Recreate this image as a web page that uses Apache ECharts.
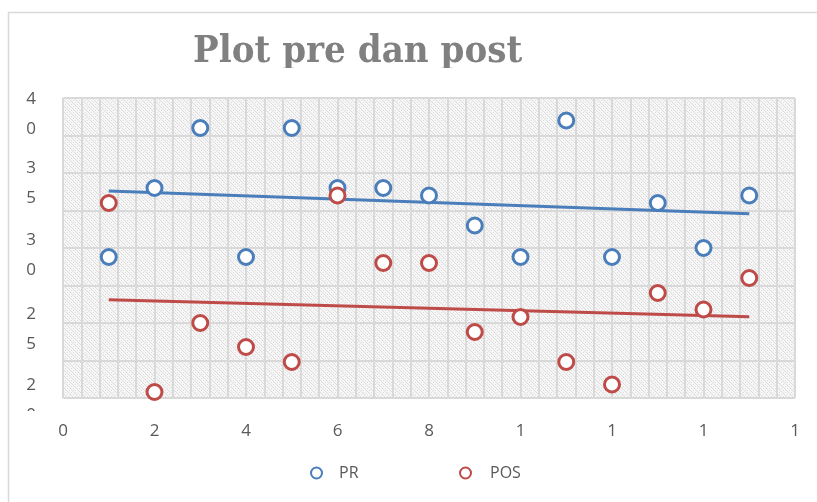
<!DOCTYPE html>
<html>
<head>
<meta charset="utf-8">
<script src="https://cdn.jsdelivr.net/npm/echarts@6/dist/echarts.min.js"></script>
<style>
html,body{margin:0;padding:0;background:#fff;}
#chart{width:817px;height:502px;}
</style>
</head>
<body>
<div id="chart"></div>
<script>
// ---- data ----
const chartTitle = 'Plot pre dan post';
const seriesNames = ['PR', 'POS'];
const trendNames = ['Linear (PR)', 'Linear (POS)'];
const subjects = [1, 2, 3, 4, 5, 6, 7, 8, 9, 10, 11, 12, 13, 14, 15];
const prValues = [29.4, 34, 38, 29.4, 38, 34, 34, 33.5, 31.5, 29.4, 38.5, 29.4, 33, 30, 33.5];
const posValues = [33, 20.4, 25, 23.4, 22.4, 33.5, 29, 29, 24.4, 25.4, 22.4, 20.9, 27, 25.9, 28];
const xTickValues = [0, 2, 4, 6, 8, 10, 12, 14, 16];
const xTickLabels = ['0', '2', '4', '6', '8', '1', '1', '1', '1'];
const yTickValues = [20, 25, 30, 35, 40];
const yTickLabels = ['2\n0', '2\n5', '3\n0', '3\n5', '4\n0'];

// ---- helpers ----
function trend(xs, ys) {
  const n = xs.length;
  const mx = xs.reduce((a, b) => a + b, 0) / n;
  const my = ys.reduce((a, b) => a + b, 0) / n;
  let sxy = 0, sxx = 0;
  for (let i = 0; i < n; i++) { sxy += (xs[i] - mx) * (ys[i] - my); sxx += (xs[i] - mx) ** 2; }
  const b = sxy / sxx, a = my - b * mx;
  const x0 = xs[0], x1 = xs[n - 1];
  return [[x0, a + b * x0], [x1, a + b * x1]];
}
function pairs(xs, ys) { return xs.map((x, i) => [x, ys[i]]); }

// hatch pattern
const pc = document.createElement('canvas');
pc.width = 6; pc.height = 6;
const g = pc.getContext('2d');
g.fillStyle = '#f6f6f6'; g.fillRect(0, 0, 6, 6);
g.fillStyle = '#dcdcdc';
for (let i = 0; i < 6; i++) { g.fillRect(i, i, 1, 1); if (i % 2 === 0) g.fillRect((i + 3) % 6, i, 1, 1); }

const blue = '#4a7ebb', red = '#be4b48';
const labelColor = '#595959';
const gridColor = '#d9d9d9';
const yOffsets = [4, 12, 14, 20, 32];

const rich = {};
yTickValues.forEach((v, i) => { rich['s' + i] = { fontSize: 1, lineHeight: yOffsets[i] }; });

function yLabel(parity) {
  return v => {
    const i = yTickValues.indexOf(v);
    if (i < 0 || i % 2 !== parity) return '';
    return '{s' + i + '| }\n' + yTickLabels[i];
  };
}
function yAxisDef(parity, withLines) {
  return {
    type: 'value', min: 20, max: 40, interval: 5, position: 'left',
    axisLine: { show: false }, axisTick: { show: false },
    axisLabel: {
      margin: 27, fontFamily: 'Open Sans', fontSize: 17, color: labelColor, lineHeight: 30, align: 'right',
      showMinLabel: true, showMaxLabel: true,
      formatter: yLabel(parity), rich: rich
    },
    splitLine: { show: withLines, lineStyle: { color: gridColor, width: 2 } },
    minorSplitLine: { show: withLines, lineStyle: { color: gridColor, width: 2 } },
    minorTick: { show: false, splitNumber: 2 }
  };
}

const chart = echarts.init(document.getElementById('chart'), null, { renderer: 'canvas' });
chart.setOption({
  animation: false,
  backgroundColor: '#fff',
  title: {
    text: chartTitle,
    left: 188, top: 28,
    textStyle: { fontFamily: 'DejaVu Serif Condensed, DejaVu Serif', fontWeight: 'bold', fontSize: 38, color: '#808080' }
  },
  legend: [
    { data: [seriesNames[0]], left: 305, top: 460, itemWidth: 11, itemHeight: 11, itemGap: 10,
      textStyle: { fontFamily: 'Open Sans', fontSize: 16, color: labelColor, padding: [0, 0, 0, 12] } },
    { data: [seriesNames[1]], left: 454, top: 460, itemWidth: 11, itemHeight: 11, itemGap: 10,
      textStyle: { fontFamily: 'Open Sans', fontSize: 16, color: labelColor, padding: [0, 0, 0, 14] } }
  ],
  grid: {
    left: 63, right: 22, top: 98, bottom: 104,
    show: true, backgroundColor: { image: pc, repeat: 'repeat' }, borderWidth: 0
  },
  xAxis: {
    type: 'value', min: 0, max: 16, interval: 2,
    axisLine: { show: false }, axisTick: { show: false },
    axisLabel: {
      margin: 25, fontFamily: 'Open Sans', fontSize: 17, color: labelColor,
      showMinLabel: true, showMaxLabel: true,
      formatter: v => xTickLabels[xTickValues.indexOf(v)]
    },
    splitLine: { show: true, lineStyle: { color: gridColor, width: 2 } },
    minorSplitLine: { show: true, lineStyle: { color: gridColor, width: 2 } },
    minorTick: { show: false, splitNumber: 5 }
  },
  yAxis: [yAxisDef(0, true), yAxisDef(1, false)],
  graphic: [
    { type: 'rect', z: 100, shape: { x: 150, y: 68, width: 420, height: 27 }, style: { fill: '#fff' } },
    { type: 'rect', z: 100, shape: { x: 10, y: 411, width: 40, height: 12 }, style: { fill: '#fff' } },
    { type: 'rect', z: 101, shape: { x: 8.5, y: 12.5, width: 900, height: 600 }, style: { fill: 'none', stroke: '#d9d9d9', lineWidth: 1.5 } }
  ],
  series: [
    { name: trendNames[0], type: 'line', data: trend(subjects, prValues), symbol: 'none', z: 2,
      lineStyle: { color: blue, width: 3 }, itemStyle: { color: blue }, silent: true },
    { name: trendNames[1], type: 'line', data: trend(subjects, posValues), symbol: 'none', z: 2,
      lineStyle: { color: red, width: 3 }, itemStyle: { color: red }, silent: true },
    { name: seriesNames[0], type: 'scatter', data: pairs(subjects, prValues), symbol: 'circle', symbolSize: 15, z: 3,
      itemStyle: { color: '#fff', borderColor: blue, borderWidth: 3, opacity: 1 } },
    { name: seriesNames[1], type: 'scatter', data: pairs(subjects, posValues), symbol: 'circle', symbolSize: 15, z: 3,
      itemStyle: { color: '#fff', borderColor: red, borderWidth: 3, opacity: 1 } }
  ]
});
</script>
</body>
</html>
